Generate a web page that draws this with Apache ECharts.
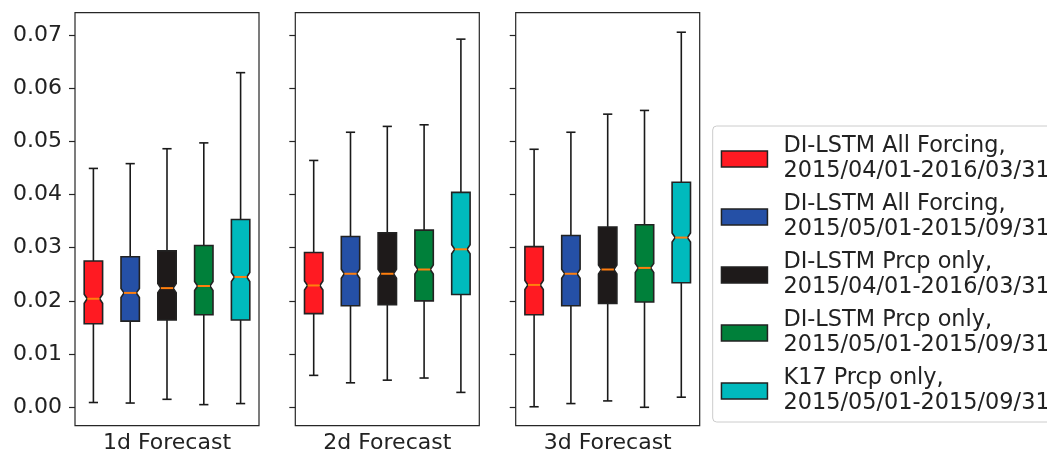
<!DOCTYPE html>
<html><head><meta charset="utf-8">
<script src="https://cdn.jsdelivr.net/npm/echarts@6/dist/echarts.min.js"></script>
<style>html,body{margin:0;padding:0;background:#fff}#c{width:1047px;height:450px}</style>
</head><body><div id="c"></div>
<script>
// Methods (legend entries)
const methods = [
  'DI-LSTM All Forcing,\n2015/04/01-2016/03/31',
  'DI-LSTM All Forcing,\n2015/05/01-2015/09/31',
  'DI-LSTM Prcp only,\n2015/04/01-2016/03/31',
  'DI-LSTM Prcp only,\n2015/05/01-2015/09/31',
  'K17 Prcp only,\n2015/05/01-2015/09/31'
];
const colors = ['#ff1a22', '#2550a6', '#1e1a1a', '#00803a', '#00babd'];
const panels = ['1d Forecast', '2d Forecast', '3d Forecast'];
const yTicks = [0, 0.01, 0.02, 0.03, 0.04, 0.05, 0.06, 0.07];

// Box stats per method: [whiskerLow, Q1, median, Q3, whiskerHigh]
const stats1d = [
  [0.0009, 0.0157, 0.0204, 0.0275, 0.0449],
  [0.0008, 0.0162, 0.0215, 0.0283, 0.0458],
  [0.0015, 0.0164, 0.0224, 0.0294, 0.0486],
  [0.0005, 0.0174, 0.0228, 0.0304, 0.0497],
  [0.0007, 0.0164, 0.0245, 0.0353, 0.0629]
];
const stats2d = [
  [0.0060, 0.0176, 0.0229, 0.0291, 0.0464],
  [0.0046, 0.0191, 0.0251, 0.0321, 0.0517],
  [0.0051, 0.0193, 0.0251, 0.0328, 0.0528],
  [0.0055, 0.0200, 0.0259, 0.0333, 0.0531],
  [0.0028, 0.0212, 0.0297, 0.0404, 0.0692]
];
const stats3d = [
  [0.0001, 0.0174, 0.0230, 0.0302, 0.0485],
  [0.0007, 0.0191, 0.0251, 0.0323, 0.0517],
  [0.0012, 0.0195, 0.0259, 0.0339, 0.0551],
  [0.0000, 0.0198, 0.0262, 0.0343, 0.0558],
  [0.0019, 0.0234, 0.0319, 0.0423, 0.0705]
];
const allStats = [stats1d, stats2d, stats3d];

const FONT = 'DejaVu Sans';
const NOTCH = 0.00085;
const gridLefts = [75, 295.3, 515.7];

function renderBox(params, api) {
  const x = api.value(0);
  const lo = api.value(1), q1 = api.value(2), med = api.value(3), q3 = api.value(4), hi = api.value(5);
  const halfW = api.size([0.5, 0])[0] / 2;
  const capHalf = api.size([0.25, 0])[0] / 2;
  const indent = halfW * 0.33;
  const cx = api.coord([x, med])[0];
  const y = v => api.coord([x, v])[1];
  const xl = cx - halfW, xr = cx + halfW;
  const yq1 = y(q1), yq3 = y(q3), ym = y(med), ylo = y(lo), yhi = y(hi);
  const yciLo = y(med - NOTCH), yciHi = y(med + NOTCH);
  const color = api.visual('color');
  const wStyle = { stroke: '#1a1a1a', lineWidth: 1.6 };
  return {
    type: 'group',
    children: [
      { type: 'line', shape: { x1: cx, y1: yq3, x2: cx, y2: yhi }, style: wStyle },
      { type: 'line', shape: { x1: cx, y1: yq1, x2: cx, y2: ylo }, style: wStyle },
      { type: 'line', shape: { x1: cx - capHalf, y1: yhi, x2: cx + capHalf, y2: yhi }, style: wStyle },
      { type: 'line', shape: { x1: cx - capHalf, y1: ylo, x2: cx + capHalf, y2: ylo }, style: wStyle },
      {
        type: 'polygon',
        shape: { points: [
          [xl, yq1], [xr, yq1], [xr, yciLo], [xr - indent, ym], [xr, yciHi], [xr, yq3],
          [xl, yq3], [xl, yciHi], [xl + indent, ym], [xl, yciLo]
        ] },
        style: { fill: color, stroke: '#222', lineWidth: 1.6 }
      },
      { type: 'line', shape: { x1: xl + indent, y1: ym, x2: xr - indent, y2: ym },
        style: { stroke: '#ff7f0e', lineWidth: 2 } }
    ]
  };
}

const grids = [], xAxes = [], yAxes = [], series = [];
panels.forEach((pname, p) => {
  grids.push({ left: gridLefts[p], top: 12.7, width: 184, height: 413,
    outerBoundsMode: 'none', containLabel: false,
    show: true, borderColor: '#262626', borderWidth: 1.2, backgroundColor: 'transparent' });
  xAxes.push({ type: 'value', gridIndex: p, min: 0.5, max: 5.5,
    axisLine: { show: false }, axisTick: { show: false }, axisLabel: { show: false }, splitLine: { show: false },
    name: pname, nameLocation: 'middle', nameGap: 7,
    nameTextStyle: { fontSize: 22, color: '#222', fontFamily: FONT } });
  yAxes.push({ type: 'value', gridIndex: p, min: -0.00346, max: 0.07417,
    axisLine: { show: false },
    axisTick: { show: true, length: 6, customValues: yTicks, lineStyle: { color: '#262626', width: 1.2 } },
    axisLabel: { show: p === 0, customValues: yTicks, formatter: v => Number(v).toFixed(2),
      fontSize: 22, color: '#222', fontFamily: FONT, margin: 13 },
    splitLine: { show: false } });
  methods.forEach((m, i) => {
    series.push({
      type: 'custom', name: m, xAxisIndex: p, yAxisIndex: p,
      itemStyle: { color: colors[i] },
      encode: { x: 0, y: [1, 2, 3, 4, 5] },
      data: [[i + 1].concat(allStats[p][i])],
      renderItem: renderBox,
      silent: true
    });
  });
});

const chart = echarts.init(document.getElementById('c'), null, { renderer: 'canvas' });
chart.setOption({
  animation: false,
  backgroundColor: '#fff',
  textStyle: { fontFamily: FONT },
  grid: grids, xAxis: xAxes, yAxis: yAxes, series: series,
  legend: {
    orient: 'vertical', left: 712.7, top: 126,
    padding: [8, 60, 6, 8], itemGap: 8,
    borderColor: '#cccccc', borderWidth: 1, borderRadius: 4, backgroundColor: '#fff',
    icon: 'rect', itemWidth: 46, itemHeight: 16,
    itemStyle: { borderColor: '#222', borderWidth: 1.5 },
    data: methods.map((m, i) => ({ name: m, itemStyle: { color: colors[i] } })),
    textStyle: { fontSize: 22.4, lineHeight: 25, color: '#222', fontFamily: FONT, padding: [0, 0, 0, 11] },
    selectedMode: false
  }
});
</script></body></html>
